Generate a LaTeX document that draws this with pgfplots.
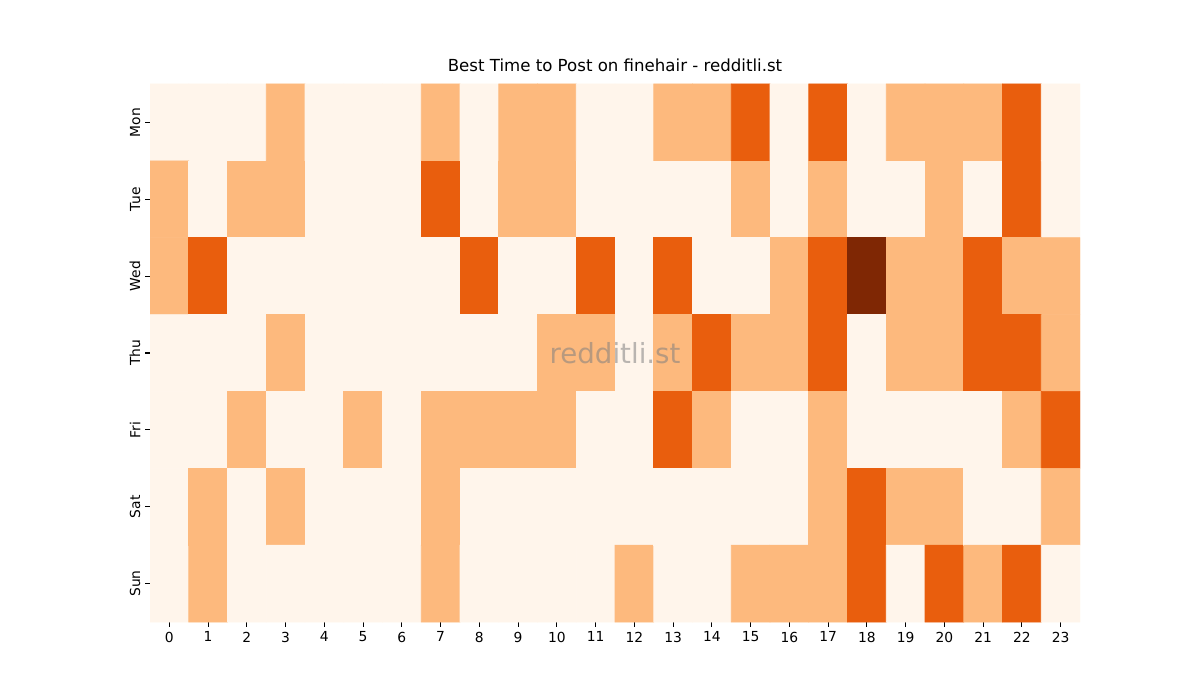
\documentclass[border=0pt]{standalone}
\usepackage{pgfplots}
\pgfplotsset{compat=1.18}
\usepackage{fontspec}
\setmainfont{DejaVu Sans}
\begin{document}
\begin{tikzpicture}[x=1bp,y=1bp]
\path[use as bounding box] (0,0) rectangle (864,504);
\begin{axis}[
  at={(108bp,56.16bp)}, anchor=south west,
  scale only axis, width=669.6bp, height=387.36bp,
  xmin=-0.5, xmax=23.5, ymin=-0.5, ymax=6.5,
  y dir=reverse,
  axis line style={draw=none},
  xtick={0,...,23}, ytick={0,...,6},
  xtick pos=bottom, ytick pos=left,
  yticklabels={Mon,Tue,Wed,Thu,Fri,Sat,Sun},
  yticklabel style={rotate=90, anchor=south},
  tick align=outside, major tick length=3.5pt,
  tick style={black, line width=0.8pt},
  ticklabel style={font=\fontsize{10}{12}\selectfont},
  /pgf/number format/assume math mode=true,
  title={Best Time to Post on finehair - redditli.st},
  title style={font=\fontsize{12}{14}\selectfont, yshift=-1pt},
  colormap={oranges}{rgb255=(255,245,235) rgb255=(253,185,125) rgb255=(233,94,13) rgb255=(127,39,4)},
  point meta min=0, point meta max=3,
]
\addplot[matrix plot*, mesh/rows=7, mesh/cols=24, point meta=explicit] coordinates {
(0,0)[0] (1,0)[0] (2,0)[0] (3,0)[1] (4,0)[0] (5,0)[0] (6,0)[0] (7,0)[1] (8,0)[0] (9,0)[1] (10,0)[1] (11,0)[0] (12,0)[0] (13,0)[1] (14,0)[1] (15,0)[2] (16,0)[0] (17,0)[2] (18,0)[0] (19,0)[1] (20,0)[1] (21,0)[1] (22,0)[2] (23,0)[0]
(0,1)[1] (1,1)[0] (2,1)[1] (3,1)[1] (4,1)[0] (5,1)[0] (6,1)[0] (7,1)[2] (8,1)[0] (9,1)[1] (10,1)[1] (11,1)[0] (12,1)[0] (13,1)[0] (14,1)[0] (15,1)[1] (16,1)[0] (17,1)[1] (18,1)[0] (19,1)[0] (20,1)[1] (21,1)[0] (22,1)[2] (23,1)[0]
(0,2)[1] (1,2)[2] (2,2)[0] (3,2)[0] (4,2)[0] (5,2)[0] (6,2)[0] (7,2)[0] (8,2)[2] (9,2)[0] (10,2)[0] (11,2)[2] (12,2)[0] (13,2)[2] (14,2)[0] (15,2)[0] (16,2)[1] (17,2)[2] (18,2)[3] (19,2)[1] (20,2)[1] (21,2)[2] (22,2)[1] (23,2)[1]
(0,3)[0] (1,3)[0] (2,3)[0] (3,3)[1] (4,3)[0] (5,3)[0] (6,3)[0] (7,3)[0] (8,3)[0] (9,3)[0] (10,3)[1] (11,3)[1] (12,3)[0] (13,3)[1] (14,3)[2] (15,3)[1] (16,3)[1] (17,3)[2] (18,3)[0] (19,3)[1] (20,3)[1] (21,3)[2] (22,3)[2] (23,3)[1]
(0,4)[0] (1,4)[0] (2,4)[1] (3,4)[0] (4,4)[0] (5,4)[1] (6,4)[0] (7,4)[1] (8,4)[1] (9,4)[1] (10,4)[1] (11,4)[0] (12,4)[0] (13,4)[2] (14,4)[1] (15,4)[0] (16,4)[0] (17,4)[1] (18,4)[0] (19,4)[0] (20,4)[0] (21,4)[0] (22,4)[1] (23,4)[2]
(0,5)[0] (1,5)[1] (2,5)[0] (3,5)[1] (4,5)[0] (5,5)[0] (6,5)[0] (7,5)[1] (8,5)[0] (9,5)[0] (10,5)[0] (11,5)[0] (12,5)[0] (13,5)[0] (14,5)[0] (15,5)[0] (16,5)[0] (17,5)[1] (18,5)[2] (19,5)[1] (20,5)[1] (21,5)[0] (22,5)[0] (23,5)[1]
(0,6)[0] (1,6)[1] (2,6)[0] (3,6)[0] (4,6)[0] (5,6)[0] (6,6)[0] (7,6)[1] (8,6)[0] (9,6)[0] (10,6)[0] (11,6)[0] (12,6)[1] (13,6)[0] (14,6)[0] (15,6)[1] (16,6)[1] (17,6)[1] (18,6)[2] (19,6)[0] (20,6)[2] (21,6)[1] (22,6)[2] (23,6)[0]
};
\node[text=gray, opacity=0.55, font=\fontsize{20}{24}\selectfont] at (axis cs:11.5,3) {redditli.st};
\end{axis}
\end{tikzpicture}
\end{document}
